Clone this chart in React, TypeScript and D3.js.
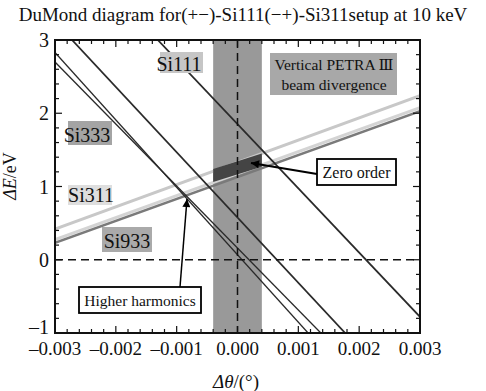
import React from 'react';
import * as d3 from 'd3';

const titleText = 'DuMond diagram for(+−)-Si111(−+)-Si311setup at 10 keV';
const xTickValues = [-0.003, -0.002, -0.001, 0, 0.001, 0.002, 0.003];
const xTickLabels = ['–0.003', '–0.002', '–0.001', '0.000', '0.001', '0.002', '0.003'];
const yTickValues = [-1, 0, 1, 2, 3];
const yTickLabels = ['–1', '0', '1', '2', '3'];
const beamDivergence = [-0.0004, 0.0004];
// positive-slope bands ([Δθ, ΔE] endpoints)
const si311Line: [number, number][] = [[-0.003, 0.42], [0.003, 2.24]];
const si933Line: [number, number][] = [[-0.003, 0.23], [0.003, 2.03]];
// negative-slope lines
const si111Line: [number, number][] = [[-0.00131, 3], [0.003, -0.78]];
const si111EdgeLine: [number, number][] = [[-0.00272, 3], [0.00177, -1]];
const si333LineA: [number, number][] = [[-0.003, 2.83], [0.00116, -1]];
const si333LineB: [number, number][] = [[-0.003, 2.7], [0.00137, -1]];

const W = 486, H = 391;
const L = 55, R = 420, T = 40, B = 333;

export default function App() {
  const x = d3.scaleLinear().domain([-0.003, 0.003]).range([L, R]);
  const y = d3.scaleLinear().domain([-1, 3]).range([B, T]);
  const line = d3.line<[number, number]>().x(d => x(d[0])).y(d => y(d[1]));
  const interp = (ln: [number, number][], t: number) =>
    ln[0][1] + (ln[1][1] - ln[0][1]) * (t - ln[0][0]) / (ln[1][0] - ln[0][0]);
  const patch: [number, number][] = [
    [beamDivergence[0], interp(si311Line, beamDivergence[0]) + 0.03],
    [beamDivergence[1], interp(si311Line, beamDivergence[1])],
    [beamDivergence[1], interp(si933Line, beamDivergence[1]) + 0.02],
    [beamDivergence[0], interp(si933Line, beamDivergence[0]) + 0.05],
  ];
  const xMinor = d3.range(-15, 16).map(i => i * 0.0002);
  const yMinor = d3.range(-5, 16).map(i => i * 0.2);
  const font = '"Liberation Serif", "DejaVu Serif", serif';
  const offset = (ln: [number, number][], dy: number): [number, number][] =>
    ln.map(p => [p[0], p[1] + dy]);

  return (
    <svg width={W} height={H} style={{ position: 'absolute', left: 0, top: 0, background: '#fff' }} fontFamily={font}>
      <defs>
        <marker id="ah" viewBox="0 0 10 10" refX="10" refY="5" markerWidth="10" markerHeight="8" markerUnits="userSpaceOnUse" orient="auto">
          <path d="M0,0 L10,5 L0,10 z" fill="#000" />
        </marker>
        <clipPath id="plot"><rect x={L} y={T} width={R - L} height={B - T} /></clipPath>
      </defs>
      <rect x={0} y={0} width={W} height={H} fill="#fff" />
      <text x={243} y={21} textAnchor="middle" fontSize={19} fill="#111">{titleText}</text>
      <g clipPath="url(#plot)">
        <rect x={x(beamDivergence[0])} y={T} width={x(beamDivergence[1]) - x(beamDivergence[0])} height={B - T} fill="#999" />
        <path d={line(offset(si933Line, 0.045)) || ''} stroke="#d4d4d4" strokeWidth={3} fill="none" />
        <path d={line(si933Line) || ''} stroke="#7a7a7a" strokeWidth={2.5} fill="none" />
        <path d={line(si311Line) || ''} stroke="#c8c8c8" strokeWidth={3} fill="none" />
        <path d={line(patch) + 'Z'} fill="#444" />
        <path d={line(si111Line) || ''} stroke="#2a2a2a" strokeWidth={1.8} fill="none" />
        <path d={line(si111EdgeLine) || ''} stroke="#2a2a2a" strokeWidth={1.8} fill="none" />
        <path d={line(si333LineA) || ''} stroke="#2a2a2a" strokeWidth={1.3} fill="none" />
        <path d={line(si333LineB) || ''} stroke="#2a2a2a" strokeWidth={1.3} fill="none" />
        <line x1={L} x2={R} y1={y(0)} y2={y(0)} stroke="#111" strokeWidth={1.5} strokeDasharray="8,5" />
        <line x1={x(0)} x2={x(0)} y1={T} y2={B} stroke="#111" strokeWidth={1.5} strokeDasharray="8,5" />
      </g>
      {/* ticks */}
      {xMinor.map((v, i) => {
        const major = i % 5 === 0;
        const len = major ? 7 : 4;
        return (
          <g key={'xt' + i} stroke="#111" strokeWidth={1.2}>
            <line x1={x(v)} x2={x(v)} y1={B} y2={B - len} />
            <line x1={x(v)} x2={x(v)} y1={T} y2={T + len} />
          </g>
        );
      })}
      {yMinor.map((v, i) => {
        const major = i % 5 === 0;
        const len = major ? 7 : 4;
        return (
          <g key={'yt' + i} stroke="#111" strokeWidth={1.2}>
            <line x1={L} x2={L + len} y1={y(v)} y2={y(v)} />
            <line x1={R} x2={R - len} y1={y(v)} y2={y(v)} />
          </g>
        );
      })}
      <rect x={L} y={T} width={R - L} height={B - T} fill="none" stroke="#111" strokeWidth={2} />
      {xTickValues.map((v, i) => (
        <text key={'xl' + i} x={x(v)} y={B + 22} textAnchor="middle" fontSize={19} fill="#111">{xTickLabels[i]}</text>
      ))}
      {yTickValues.map((v, i) => (
        <text key={'yl' + i} x={L - 6} y={y(v) + (i === 0 ? 1 : 7)} textAnchor="end" fontSize={20} fill="#111">{yTickLabels[i]}</text>
      ))}
      <text x={236} y={388} textAnchor="middle" fontSize={19} fill="#111">
        <tspan fontStyle="italic">Δθ</tspan>/(°)
      </text>
      <text transform={`translate(16,${176}) rotate(-90)`} textAnchor="middle" fontSize={18} fill="#111">
        <tspan fontStyle="italic">ΔE</tspan>/eV
      </text>
      {/* labels */}
      <rect x={160} y={52} width={43} height={21} fill="#c6c6c6" />
      <text x={179} y={71} textAnchor="middle" fontSize={20} fill="#111">Si111</text>
      <rect x={68} y={121} width={44} height={24} fill="#a4a4a4" />
      <text x={87} y={142} textAnchor="middle" fontSize={20} fill="#111">Si333</text>
      <rect x={68} y={185} width={44} height={20} fill="#dedede" />
      <text x={91} y={202} textAnchor="middle" fontSize={20} fill="#111">Si311</text>
      <rect x={102} y={227} width={50} height={25} fill="#aaaaaa" />
      <text x={127} y={248} textAnchor="middle" fontSize={20} fill="#111">Si933</text>
      <rect x={270} y={53} width={127} height={42} fill="#a8a8a8" />
      <text x={334} y={70} textAnchor="middle" fontSize={15.5} fill="#111">Vertical PETRA Ⅲ</text>
      <text x={334} y={90} textAnchor="middle" fontSize={15.5} fill="#111">beam divergence</text>
      {/* zero order */}
      <line x1={317} y1={174} x2={251} y2={163} stroke="#000" strokeWidth={2} markerEnd="url(#ah)" />
      <rect x={317} y={159} width={79} height={26} fill="#fff" stroke="#000" strokeWidth={1.8} />
      <text x={356.5} y={178} textAnchor="middle" fontSize={16} fill="#111">Zero order</text>
      {/* higher harmonics */}
      <line x1={180} y1={287} x2={187} y2={199} stroke="#000" strokeWidth={1.5} markerEnd="url(#ah)" />
      <rect x={79} y={287} width={122} height={26} fill="#fff" stroke="#000" strokeWidth={1.8} />
      <text x={140} y={306} textAnchor="middle" fontSize={15.5} fill="#111">Higher harmonics</text>
    </svg>
  );
}
